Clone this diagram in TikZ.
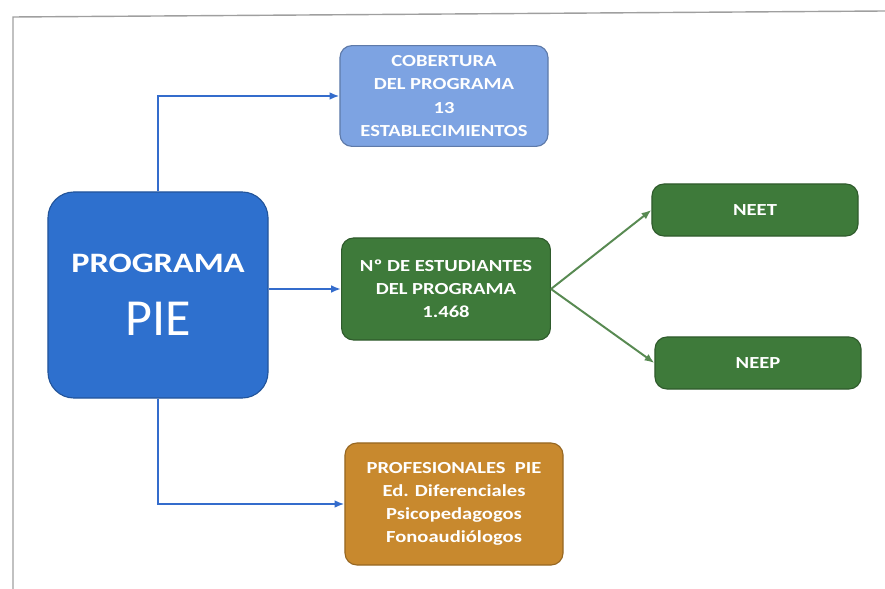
\documentclass[tikz,border=0pt]{standalone}
\usepackage{fontspec}
\setmainfont{Carlito}[FakeStretch=1.22]
\newfontfamily\piefont{Carlito}
\usetikzlibrary{arrows.meta}
\definecolor{pieblue}{RGB}{46,112,206}
\definecolor{cobblue}{RGB}{125,163,226}
\definecolor{estgreen}{RGB}{62,122,58}
\definecolor{profgold}{RGB}{200,137,46}
\definecolor{linkblue}{RGB}{52,108,204}
\definecolor{linkgreen}{RGB}{88,138,82}

\begin{document}
\begin{tikzpicture}[x=0.025cm,y=-0.025cm,
  box/.style={draw=#1!75!black,fill=#1,rounded corners=0.3cm,text=white,align=center,
    font=\bfseries\fontsize{12}{16.5}\selectfont,inner sep=0pt,line width=0.8pt},
  link/.style={line width=1.4pt,-{Latex[length=7pt,width=5.5pt]}}]
  \useasboundingbox (0,0) rectangle (885,589);
  \draw[gray!75,line width=1pt] (13,589) -- (13,17) -- (885,11);
  \node[box=pieblue,rounded corners=0.65cm,minimum width=5.5cm,minimum height=5.15cm] (pie) at (158,295)
    {{\fontsize{20}{24}\selectfont PROGRAMA}\\[20pt]{\piefont\mdseries\fontsize{37}{40}\selectfont PIE}};
  \node[box=cobblue,minimum width=5.2cm,minimum height=2.52cm] (cob) at (444,96) {COBERTURA\\DEL PROGRAMA\\13\\ESTABLECIMIENTOS};
  \node[box=estgreen,minimum width=5.22cm,minimum height=2.55cm] (est) at (446,289) {Nº DE ESTUDIANTES\\DEL PROGRAMA\\1.468};
  \node[box=estgreen,minimum width=5.15cm,minimum height=1.3cm] (neet) at (755,210) {NEET};
  \node[box=estgreen,minimum width=5.15cm,minimum height=1.3cm] (neep) at (758,363) {NEEP};
  \node[box=profgold,minimum width=5.45cm,minimum height=3.05cm] (prof) at (454,504)
    {PROFESIONALES\ \ PIE\\Ed. Diferenciales\\Psicopedagogos\\Fonoaudiólogos};
  \draw[link,linkblue] (pie.north) |- (cob.west);
  \draw[link,linkblue] (pie.east |- est.west) -- (est.west);
  \draw[link,linkblue] (pie.south) |- (prof.west);
  \draw[link,linkgreen] (est.east) -- (neet.west);
  \draw[link,linkgreen] (est.east) -- (neep.west);
\end{tikzpicture}
\end{document}
